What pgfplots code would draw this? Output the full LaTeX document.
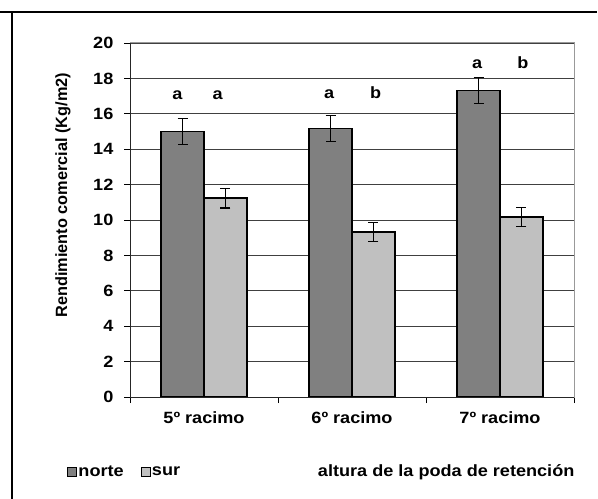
\documentclass[border=0pt]{standalone}
\usepackage{fontspec}
\setmainfont{Liberation Sans}[FakeStretch=1.11]
\newfontfamily\plainfont{Liberation Sans}
\usepackage{pgfplots}
\pgfplotsset{compat=1.18}
\definecolor{norteC}{HTML}{808080}
\definecolor{surC}{HTML}{C0C0C0}
\begin{document}
\bfseries\fontsize{16.3bp}{19bp}\selectfont
\begin{tikzpicture}
\useasboundingbox (0,0) rectangle (598bp,499bp);
\draw[line width=1.1bp, black] (0,487bp) -- (597bp,487bp);
\draw[line width=1.1bp, black] (12bp,487bp) -- (12bp,0);
\begin{axis}[
  at={(130bp,102bp)}, anchor=south west,
  scale only axis, width=444bp, height=354bp,
  ybar=0pt, bar width=0.29,
  xmin=-0.5, xmax=2.5, ymin=0, ymax=20,
  ytick={0,2,...,20},
  /pgf/number format/assume math mode=true,
  ytick pos=left, tick align=outside,
  major tick length=6bp,
  xtick={-0.5,0.5,1.5,2.5}, xticklabels={},
  extra x ticks={0,1,2},
  extra x tick labels={5º racimo,6º racimo,7º racimo},
  extra x tick style={major tick length=0pt, xticklabel style={yshift=-9bp}},
  xtick pos=bottom,
  yticklabel style={xshift=-5bp},
  tick style={black, line width=0.8bp},
  ymajorgrids, major grid style={black!75, line width=0.8bp},
  axis line style={draw=black!40, line width=1bp},
  ylabel={\plainfont\bfseries Rendimiento comercial (Kg/m2)},
  ylabel style={at={(axis description cs:-0.151,0.57)}, anchor=center},
  xlabel={altura de la poda de retención},
  xlabel style={at={(axis description cs:1.0135,-0.212)}, anchor=east},
  legend columns=2,
  legend style={at={(axis description cs:-0.142,-0.212)}, anchor=west,
    draw=none, fill=none, inner sep=0pt, nodes={inner sep=1bp},
    /tikz/every even column/.append style={column sep=16bp}},
  legend image code/.code={\draw[#1, line width=1.3bp] (0bp,-4.5bp) rectangle (9bp,4.5bp);},
  error bars/error bar style={black, line width=1.1bp},
  error bars/error mark options={rotate=90, mark size=5bp, line width=1.1bp, black},
  after end axis/.code={
    \draw[black!85, line width=1bp] (rel axis cs:0,0) -- (rel axis cs:0,1);
    \draw[black!85, line width=1bp] (rel axis cs:0,0) -- (rel axis cs:1,0);
  },
]
\addplot[fill=norteC, draw=black, line width=1.5bp,
  error bars/.cd, y dir=both, y explicit]
  coordinates {(0,15.0) +- (0,0.75) (1,15.17) +- (0,0.75) (2,17.33) +- (0,0.73)};
\addlegendentry{norte}
\addplot[fill=surC, draw=black, line width=1.5bp,
  error bars/.cd, y dir=both, y explicit]
  coordinates {(0,11.23) +- (0,0.55) (1,9.33) +- (0,0.55) (2,10.18) +- (0,0.55)};
\addlegendentry{sur}
\node[anchor=base] at (axis cs:-0.180,16.78) {a};
\node[anchor=base] at (axis cs:0.093,16.78) {a};
\node[anchor=base] at (axis cs:0.845,16.88) {a};
\node[anchor=base] at (axis cs:1.160,16.88) {b};
\node[anchor=base] at (axis cs:1.845,18.57) {a};
\node[anchor=base] at (axis cs:2.155,18.57) {b};
\end{axis}
\end{tikzpicture}
\end{document}
